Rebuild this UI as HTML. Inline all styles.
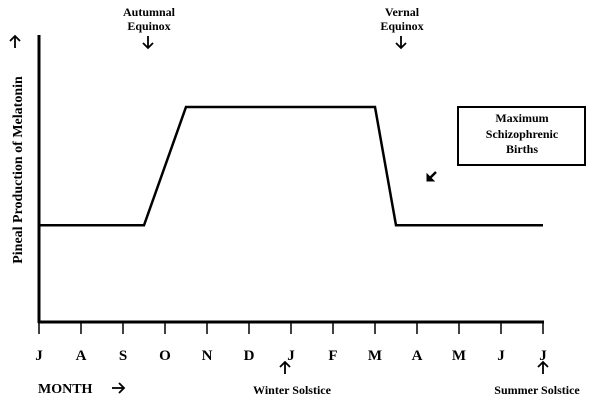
<!DOCTYPE html>
<html><head><meta charset="utf-8"><style>
body{margin:0;background:#fff}
svg{display:block;font-family:"Liberation Serif",serif;font-weight:bold}
</style></head><body>
<svg width="609" height="401" viewBox="0 0 609 401">
<defs>
<g id="arrowUp"><line x1="0" y1="0" x2="0" y2="12" stroke="#000" stroke-width="1.8"/><path d="M-5,5 L0,0 L5,5" fill="none" stroke="#000" stroke-width="1.8"/></g>
<g id="arrowDown"><line x1="0" y1="0" x2="0" y2="12" stroke="#000" stroke-width="1.8"/><path d="M-5,7 L0,12 L5,7" fill="none" stroke="#000" stroke-width="1.8"/></g>
</defs>
<g id="axes">
<line x1="39" y1="35" x2="39" y2="323" stroke="#000" stroke-width="3"/>
<line x1="38" y1="322" x2="544" y2="322" stroke="#000" stroke-width="3"/>
</g>
<g id="ticks"></g>
<path id="series" fill="none" stroke="#000" stroke-width="2.5"/>
<use href="#arrowUp" x="15" y="36"/>
<text transform="translate(22,170) rotate(-90)" font-size="14" text-anchor="middle">Pineal  Production of Melatonin</text>
<text x="38" y="393" font-size="14">MONTH</text>
<g>
<line x1="112" y1="388" x2="124" y2="388" stroke="#000" stroke-width="1.8"/><path d="M119,383 L124,388 L119,393" fill="none" stroke="#000" stroke-width="1.8"/>
</g>
<g>
<text x="149" y="16" font-size="12" text-anchor="middle">Autumnal</text>
<text x="149" y="30" font-size="12" text-anchor="middle">Equinox</text>
<use href="#arrowDown" x="148" y="36"/>
</g>
<g>
<text x="402" y="16" font-size="12" text-anchor="middle">Vernal</text>
<text x="402" y="30" font-size="12" text-anchor="middle">Equinox</text>
<use href="#arrowDown" x="401" y="36"/>
</g>
<g>
<use href="#arrowUp" x="285" y="362"/>
<text x="292" y="394" font-size="12" text-anchor="middle">Winter Solstice</text>
</g>
<g>
<use href="#arrowUp" x="543" y="362"/>
<text x="537" y="394" font-size="12" text-anchor="middle">Summer Solstice</text>
</g>
<g>
<rect x="458" y="107" width="127" height="58" fill="none" stroke="#000" stroke-width="2"/>
<text x="522" y="122" font-size="12" text-anchor="middle">Maximum</text>
<text x="522" y="138" font-size="12" text-anchor="middle">Schizophrenic</text>
<text x="522" y="153" font-size="12" text-anchor="middle">Births</text>
</g>
<g>
<line x1="436" y1="172" x2="428" y2="180" stroke="#000" stroke-width="2.5"/>
<path d="M427,174 L427,181 L434,181 Z" fill="#000" stroke="#000" stroke-width="1"/>
</g>
</svg>
<script>
const months=["J","A","S","O","N","D","J","F","M","A","M","J","J"];
const pointMonths=[0,2.5,3.5,8,8.5,12];
const pointValues=[4.5,4.5,10,10,4.5,4.5];
const x0=39,dx=42,y0=322,ky=21.5;
const xs=m=>x0+m*dx, ys=v=>y0-v*ky;
const ns="http://www.w3.org/2000/svg";
const tg=document.getElementById("ticks");
months.forEach((m,i)=>{
 const l=document.createElementNS(ns,"line");
 l.setAttribute("x1",xs(i));l.setAttribute("x2",xs(i));
 l.setAttribute("y1",322);l.setAttribute("y2",334);
 l.setAttribute("stroke","#000");l.setAttribute("stroke-width","1.5");
 
 
 tg.appendChild(l);
 const t=document.createElementNS(ns,"text");
 t.setAttribute("x",xs(i));t.setAttribute("y",360);
 t.setAttribute("font-size","15");t.setAttribute("text-anchor","middle");
 t.textContent=m;
 
 
 tg.appendChild(t);
});
document.getElementById("series").setAttribute("d",pointMonths.map((m,i)=>(i?"L":"M")+xs(m)+","+ys(pointValues[i])).join(" "));
</script>
</body></html>
